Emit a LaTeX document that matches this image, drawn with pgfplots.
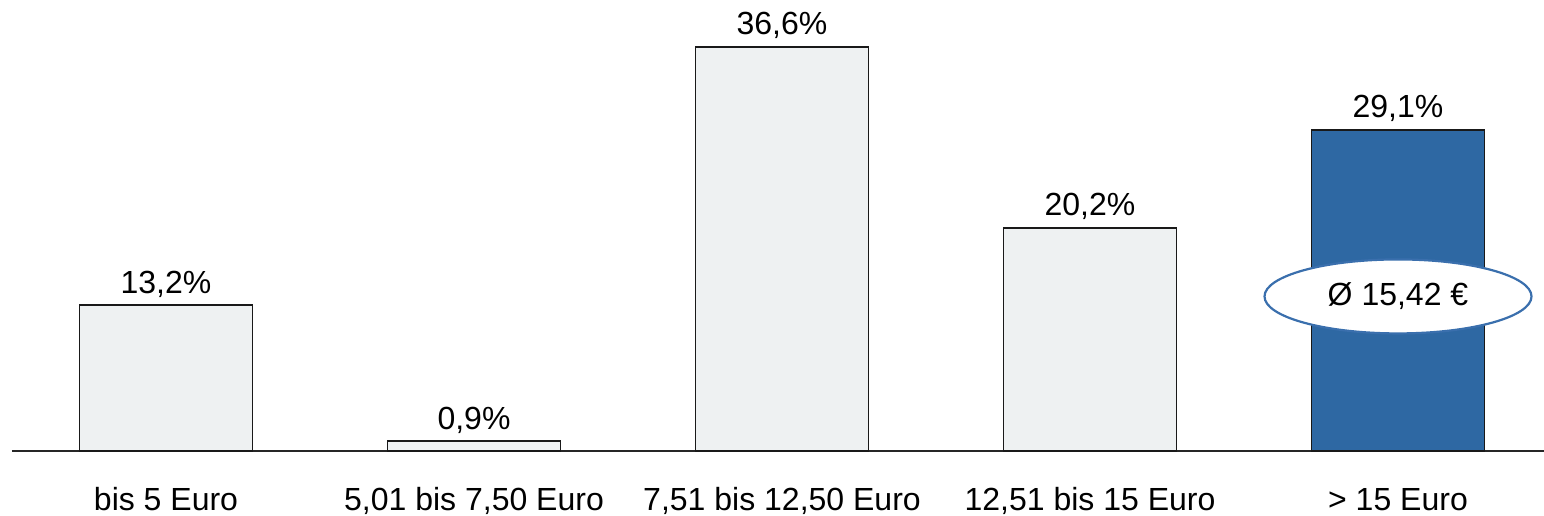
\documentclass[border=0pt]{standalone}
\usepackage{fontspec}
\setmainfont{Liberation Sans}
\usepackage{pgfplots}
\pgfplotsset{compat=1.18}
\definecolor{barfill}{HTML}{EEF1F2}
\definecolor{barblue}{HTML}{2E68A3}
\definecolor{ellblue}{HTML}{3A6FAD}
\newcommand\chartfont{\fontsize{16}{19.2}\selectfont}
\begin{document}
\chartfont
\begin{tikzpicture}
\useasboundingbox (0,0) rectangle (772pt,257.5pt);
\begin{axis}[
  at={(83pt,32pt)}, anchor=origin,
  scale only axis, width=766pt, height=225.5pt,
  xmin=-0.5, xmax=4.474, ymin=0, ymax=40.85,
  axis y line=none,
  axis x line*=bottom,
  x axis line style={-, line width=0.8pt, color=black!85},
  xtick={0,1,2,3,4},
  xticklabels={bis 5 Euro, {5,01 bis 7,50 Euro}, {7,51 bis 12,50 Euro}, {12,51 bis 15 Euro}, {> 15 Euro}},
  major tick length=0pt,
  xticklabel style={font=\chartfont, anchor=base, yshift=-29.5pt},
  ytick=\empty,
  clip=false,
  ybar, bar width=86.5pt, bar shift=0pt,
  nodes near coords={\pgfmathprintnumber[assume math mode=true,use comma,fixed,fixed zerofill,precision=1]{\pgfplotspointmeta}\%},
  every node near coord/.append style={font=\chartfont, text=black, anchor=base, yshift=6pt},
]
\addplot[draw=black!90, line width=0.9pt, fill=barfill] coordinates {(0,13.2) (1,0.9) (2,36.6) (3,20.2)};
\addplot[draw=black!90, line width=0.9pt, fill=barblue] coordinates {(4,29.1)};
\draw[ellblue, line width=1.1pt, fill=white] (axis cs:4,14.0) ellipse [x radius=66.75pt, y radius=18.5pt];
\node[font=\chartfont, text=black] at (axis cs:4,14.0) {Ø 15,42 €};
\end{axis}
\end{tikzpicture}
\end{document}
